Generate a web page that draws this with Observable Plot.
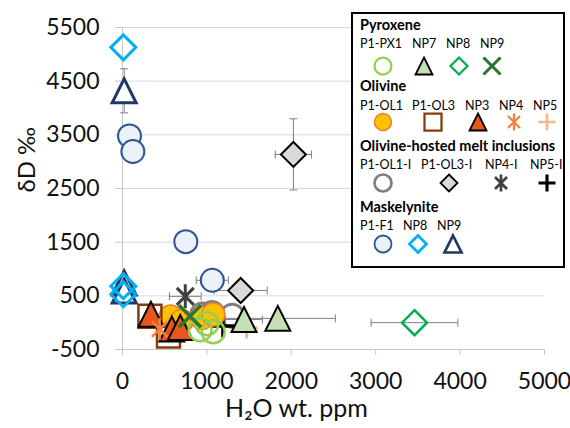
<!DOCTYPE html>
<html><head><meta charset="utf-8">
<script src="https://cdn.jsdelivr.net/npm/d3@7"></script>
<script src="https://cdn.jsdelivr.net/npm/@observablehq/plot@0.6"></script>
<style>
body{margin:0;background:#fff;}
#wrap{position:relative;width:570px;height:428px;font-family:Lato,"Open Sans",sans-serif;}
#legend{position:absolute;left:351px;top:12px;}
</style>
</head><body><div id="wrap"></div>
<script>
// ---- axis ticks & labels ----
const xTicks = [0, 1000, 2000, 3000, 4000, 5000];
const yTicks = [-500, 500, 1500, 2500, 3500, 4500, 5500];
const xLabel = "H₂O wt. ppm";
const yLabel = "δD ‰";
const legendGroups = ["Pyroxene", "Olivine", "Olivine-hosted melt inclusions", "Maskelynite"];

// ---- Pyroxene ----
const pxP1PX1_x = [920, 1075, 1000];  const pxP1PX1_y = [-130, -170, -20];
const pxNP7_x = [1440, 1840];         const pxNP7_y = [60, 80];   const pxNP7_ex = [218, 682];
const pxNP8_x = [3460];               const pxNP8_y = [0];        const pxNP8_ex = [514];
const pxNP9_x = [800];                const pxNP9_y = [120];

// ---- Olivine ----
const olP1OL1_x = [570, 700, 940, 1076]; const olP1OL1_y = [115, 30, 85, 150];
const olP1OL3_x = [325, 545];            const olP1OL3_y = [120, -250];
const olNP3_x = [337, 585, 685];         const olNP3_y = [155, -120, -90];
const olNP4_x = [440];                   const olNP4_y = [-120];
const olNP5_x = [1470];                  const olNP5_y = [-90];

// ---- Olivine-hosted melt inclusions ----
const miP1OL1I_x = [945, 1060, 1300];  const miP1OL1I_y = [150, 180, 130];
const miP1OL3I_x = [1400, 2025];       const miP1OL3I_y = [600, 3135];
const miP1OL3I_ex = [315, 215];        const miP1OL3I_ey = [0, 664];
const miNP4I_x = [744];                const miNP4I_y = [490];     const miNP4I_ex = [188];
const miNP5I_x = [1190];               const miNP5I_y = [-60];

// ---- Maskelynite ----
const mkP1F1_x = [83, 123, 750, 1064]; const mkP1F1_y = [3480, 3190, 1510, 790];
const mkP1F1_ex = [0, 0, 0, 190];
const mkNP8_x = [10, 10, 10];          const mkNP8_y = [5130, 680, 530];
const mkNP9_x = [20, 20, 20];          const mkNP9_y = [4320, 740, 590];
const mkNP9_ey = [411, 0, 0];

// ---- symbols ----
const mk = fn => ({draw(ctx, size){ const h = Math.sqrt(size / Math.PI); fn(ctx, h); }});
const SYM = {
  circle: mk((c,h)=>{c.moveTo(h,0); c.arc(0,0,h,0,2*Math.PI);}),
  triangle: mk((c,h)=>{c.moveTo(0,-h); c.lineTo(h,h); c.lineTo(-h,h); c.closePath();}),
  diamond: mk((c,h)=>{c.moveTo(0,-h); c.lineTo(h,0); c.lineTo(0,h); c.lineTo(-h,0); c.closePath();}),
  square: mk((c,h)=>{c.moveTo(-h,-h); c.lineTo(h,-h); c.lineTo(h,h); c.lineTo(-h,h); c.closePath();}),
  times: mk((c,h)=>{c.moveTo(-h,-h); c.lineTo(h,h); c.moveTo(-h,h); c.lineTo(h,-h);}),
  plus: mk((c,h)=>{c.moveTo(0,-h); c.lineTo(0,h); c.moveTo(-h,0); c.lineTo(h,0);}),
  asterisk: mk((c,h)=>{const a=h*0.707; c.moveTo(0,-h); c.lineTo(0,h); c.moveTo(-a,-a); c.lineTo(a,a); c.moveTo(-a,a); c.lineTo(a,-a);}),
  capV: mk((c,h)=>{c.moveTo(0,-h); c.lineTo(0,h);}),
  capH: mk((c,h)=>{c.moveTo(-h,0); c.lineTo(h,0);})
};

// series (legend order) with styles, draw order (z) & legend layout
const series = [
  {g:0, z:13, label:"P1-PX1", x:pxP1PX1_x, y:pxP1PX1_y, sym:"circle", k:23, fill:"none", stroke:"#92D050", sw:2.5, lx:8, sx:31},
  {g:0, z:14, label:"NP7", x:pxNP7_x, y:pxNP7_y, ex:pxNP7_ex, sym:"triangle", k:25, fill:"#C5E0B4", stroke:"#000", sw:2, lx:60, sx:72},
  {g:0, z:15, label:"NP8", x:pxNP8_x, y:pxNP8_y, ex:pxNP8_ex, sym:"diamond", k:25, fill:"none", stroke:"#00B050", sw:2.5, lx:94, sx:107},
  {g:0, z:16, label:"NP9", x:pxNP9_x, y:pxNP9_y, sym:"times", k:22, fill:"none", stroke:"#2E7531", sw:3.5, lx:128, sx:140},
  {g:1, z:8, label:"P1-OL1", x:olP1OL1_x, y:olP1OL1_y, sym:"circle", k:23, fill:"#FFC000", stroke:"#ED7D31", sw:1.5, lx:8, sx:31},
  {g:1, z:9, label:"P1-OL3", x:olP1OL3_x, y:olP1OL3_y, sym:"square", k:23, fill:"none", stroke:"#843C0C", sw:2.5, lx:60, sx:81},
  {g:1, z:10, label:"NP3", x:olNP3_x, y:olNP3_y, sym:"triangle", k:25, fill:"#E7561C", stroke:"#000", sw:2, lx:113, sx:126},
  {g:1, z:11, label:"NP4", x:olNP4_x, y:olNP4_y, sym:"asterisk", k:22, fill:"none", stroke:"#F4803A", sw:2.5, lx:147, sx:162},
  {g:1, z:12, label:"NP5", x:olNP5_x, y:olNP5_y, sym:"plus", k:22, fill:"none", stroke:"#F8B88B", sw:3, lx:181, sx:195},
  {g:2, z:4, label:"P1-OL1-I", x:miP1OL1I_x, y:miP1OL1I_y, sym:"circle", k:23, fill:"none", stroke:"#7F7F7F", sw:3, lx:8, sx:31},
  {g:2, z:5, label:"P1-OL3-I", x:miP1OL3I_x, y:miP1OL3I_y, ex:miP1OL3I_ex, ey:miP1OL3I_ey, sym:"diamond", k:25, fill:"#D9D9D9", stroke:"#000", sw:2, lx:69, sx:97},
  {g:2, z:6, label:"NP4-I", x:miNP4I_x, y:miNP4I_y, ex:miNP4I_ex, sym:"asterisk", k:24, fill:"none", stroke:"#404040", sw:3, lx:133, sx:149},
  {g:2, z:7, label:"NP5-I", x:miNP5I_x, y:miNP5I_y, sym:"plus", k:23, fill:"none", stroke:"#000", sw:3.5, lx:178, sx:195},
  {g:3, z:3, label:"P1-F1", x:mkP1F1_x, y:mkP1F1_y, ex:mkP1F1_ex, sym:"circle", k:23, fill:"#EAF2F8", stroke:"#2F5597", sw:2, lx:8, sx:31},
  {g:3, z:2, label:"NP8", x:mkNP8_x, y:mkNP8_y, sym:"diamond", k:25, fill:"none", stroke:"#00B0F0", sw:3, lx:51, sx:66},
  {g:3, z:1, label:"NP9", x:mkNP9_x, y:mkNP9_y, ey:mkNP9_ey, sym:"triangle", k:24, fill:"#fff", stroke:"#1F3864", sw:3, lx:85, sx:101}
];
const rowsOf = s => s.x.map((x, i) => ({x, y: s.y[i], ex: s.ex ? s.ex[i] : 0, ey: s.ey ? s.ey[i] : 0}));
const allRows = series.flatMap(rowsOf);
const exRows = allRows.filter(d => d.ex > 0);
const eyRows = allRows.filter(d => d.ey > 0);
const errStyle = {stroke: "#7F7F7F", strokeWidth: 1};

const dotMarks = series.slice().sort((a, b) => a.z - b.z).map(s =>
  Plot.dot(rowsOf(s), {x: "x", y: "y", symbol: SYM[s.sym], r: s.k / 2, fill: s.fill, stroke: s.stroke, strokeWidth: s.sw})
);
const fmt = d => String(d);

const chart = Plot.plot({
  width: 570, height: 428,
  marginLeft: 122, marginRight: 26, marginTop: 27, marginBottom: 79,
  style: {fontFamily: "Lato, 'Open Sans', sans-serif", fontSize: "23px", color: "#111", background: "transparent", overflow: "visible"},
  x: {domain: [0, 5000]},
  y: {domain: [-500, 5500]},
  marks: [
    Plot.gridY(yTicks, {stroke: "#D9D9D9", strokeOpacity: 1}),
    Plot.ruleX([0], {stroke: "#C8C8C8"}),
    Plot.ruleY([-500], {stroke: "#C8C8C8"}),
    Plot.axisY(yTicks, {tickSize: 7, tickPadding: 16, stroke: "#C8C8C8", label: null, fontSize: 23, tickFormat: fmt}),
    Plot.axisX(xTicks, {tickSize: 6, tickPadding: 17, stroke: "#C8C8C8", label: null, fontSize: 23, tickFormat: fmt}),
    Plot.ruleY(exRows, {y: "y", x1: d => d.x - d.ex, x2: d => d.x + d.ex, ...errStyle}),
    Plot.dot(exRows, {x: d => d.x - d.ex, y: "y", symbol: SYM.capV, r: 4, ...errStyle}),
    Plot.dot(exRows, {x: d => d.x + d.ex, y: "y", symbol: SYM.capV, r: 4, ...errStyle}),
    Plot.ruleX(eyRows, {x: "x", y1: d => d.y - d.ey, y2: d => d.y + d.ey, ...errStyle}),
    Plot.dot(eyRows, {x: "x", y: d => d.y - d.ey, symbol: SYM.capH, r: 4, ...errStyle}),
    Plot.dot(eyRows, {x: "x", y: d => d.y + d.ey, symbol: SYM.capH, r: 4, ...errStyle}),
    ...dotMarks,
    Plot.text([xLabel], {text: d => d, frameAnchor: "bottom", dx: -37, dy: 67, fontSize: 25}),
    Plot.text([yLabel], {text: d => d, frameAnchor: "left", dx: -95, dy: 4, rotate: -90, fontSize: 24})
  ]
});
const wrap = document.getElementById("wrap");
wrap.appendChild(chart);

// ---- legend box ----
const headerY = [18, 79, 139, 200], labelY = [36, 98, 157, 218], symY = [54, 110, 171, 232];
const L = d3.select(wrap).append("svg").attr("id", "legend").attr("width", 215).attr("height", 257)
  .style("font-family", "Lato, 'Open Sans', sans-serif");
L.append("rect").attr("x", 1).attr("y", 1).attr("width", 212).attr("height", 254)
  .attr("fill", "#fff").attr("stroke", "#000").attr("stroke-width", 2);
legendGroups.forEach((t, i) => L.append("text").attr("x", 9).attr("y", headerY[i])
  .attr("font-size", 14.5).attr("font-weight", "bold").attr("fill", "#000").text(t));
series.forEach(s => {
  L.append("text").attr("x", s.lx + 1).attr("y", labelY[s.g]).attr("font-size", 12.5).attr("fill", "#000").text(s.label);
  const k = 17;
  L.append("path").attr("transform", `translate(${s.sx + 1},${symY[s.g]})`)
    .attr("d", d3.symbol(SYM[s.sym], Math.PI * (k / 2) ** 2)())
    .attr("fill", s.fill).attr("stroke", s.stroke).attr("stroke-width", Math.max(1.5, s.sw * 0.9));
});
</script>
</body></html>
